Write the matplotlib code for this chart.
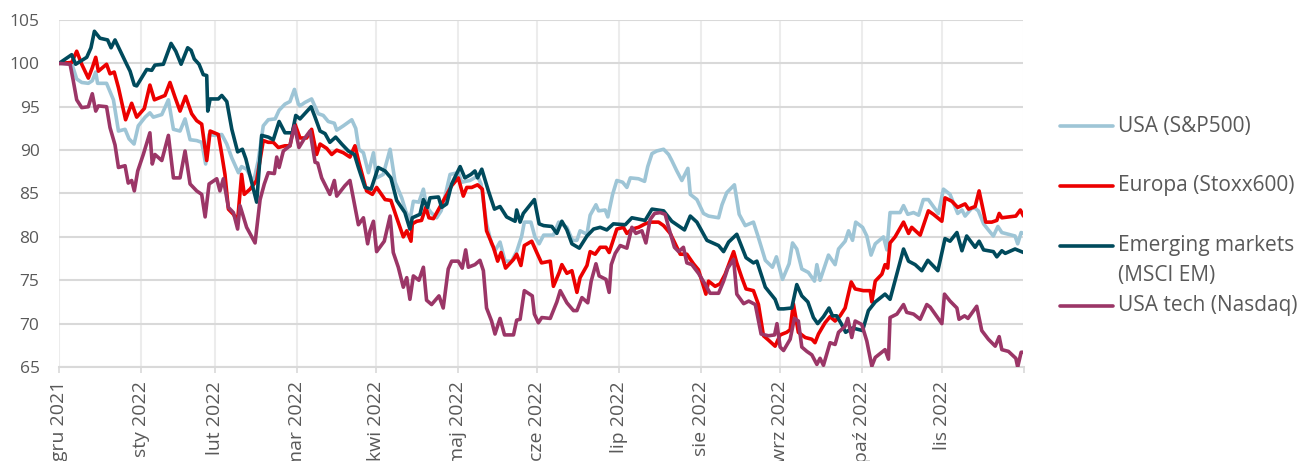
import numpy as np
import pandas as pd
import matplotlib
matplotlib.use("Agg")
import matplotlib.pyplot as plt
from matplotlib.lines import Line2D

plt.rcParams['font.family'] = ['Open Sans', 'DejaVu Sans']

START = pd.Timestamp('2021-12-31')

# --- data: days since 2021-12-31, index level (31.12.2021 = 100) ---
sp_days = [0, 4.8, 6.7, 8.6, 11.1, 12.6, 13.9, 14.6, 18, 20.6, 22.5, 25, 26.5, 28.4, 30, 32.6, 34.4, 35.7, 38.9, 41.4,
           43.3, 45.8, 47.7, 49.6, 52.1, 54, 55.5, 56.8, 59, 61.6, 63.5, 65.4, 67.9, 69.1, 71, 73.6, 75.4, 77.3, 79.2,
           81.8, 83.3, 85.5, 87.4, 89.1, 90.6, 91.2, 93.1, 95.6, 98.1, 100, 101.9, 104.2, 105.1, 107.6, 110.8, 112.3,
           113.5, 115.2, 117.1, 119, 120.2, 122.7, 125.3, 127.2, 129.7, 131.2, 132.8, 134.1, 136.2, 137.9, 139.1, 140.8,
           142.9, 144.6, 146.1, 148, 151.1, 152.4, 155.5, 158.4, 159.7, 161.8, 163.7, 165, 166.9, 168.8, 171.3, 173.2,
           175.1, 176.1, 178.6, 180.1, 181.7, 183.4, 187.1, 189.1, 192.2, 194.3, 196, 197.2, 199.8, 201, 203.2, 204.2,
           206.7, 207.7, 209.5, 211.1, 213.3, 214.9, 216.2, 219.3, 221.6, 222.8, 224.4, 226.2, 228.8, 230.7, 231.9,
           233.8, 235.7, 238, 238.9, 241.4, 243.9, 245.8, 249.6, 250.9, 252.7, 255.6, 257.4, 259.7, 262.8, 264.5,
           267.3, 270, 271.5, 273.8, 276.3, 277.6, 279.2, 281.1, 283.6, 285.9, 286.8, 288, 291.2, 293.7, 295, 297.5,
           298.8, 300.3, 301.5, 304.1, 305.7, 307.3, 308.9, 312, 313.3, 314.5, 318.3, 319.6, 321.2, 323.4, 325.3,
           327.1, 329, 332.8, 334.7, 337.2, 340.1, 341.7, 342.9, 345.4, 346.7, 347.9, 349.9, 351.7, 353.6, 355.3,
           356.8, 359.3, 361.8, 362.8, 364.1, 365]
sp_vals = [100, 100, 98.2, 97.8, 97.7, 98, 99, 97.7, 97.7, 95.8, 92.2, 92.4, 91.3, 90.7, 92.8, 93.8, 94.3, 93.8, 94.1, 95.8,
           92.4, 92.2, 93.6, 91.2, 91.1, 90.9, 88.4, 91.8, 91.7, 91.8, 90.7, 89.1, 87.4, 88.1, 87.8, 86.3, 88.8, 92.8, 93.5,
           93.6, 94.6, 95.3, 95.6, 97, 95.3, 95.1, 95.5, 95.9, 94.2, 94, 93.3, 93.1, 92.3, 92.8, 93.5, 92.5,
           90.1, 89.7, 87.4, 89.7, 86.8, 87.2, 90.1, 86.3, 84.5, 83, 81.9, 84.1, 84, 85.5, 83.5, 82.8,
           82.2, 83, 84.7, 87.2, 87.4, 86.3, 86.5, 87, 86.1, 81.5, 79.2, 78.4, 79.4, 77.2, 77.2, 78.3,
           80.1, 81.7, 81.7, 80, 79.2, 80.2, 80.2, 81.7, 81.1, 79.6, 79.6, 80.7, 80.3, 82.5, 83.7, 83,
           83.1, 82.3, 84.9, 86.5, 86.3, 85.7, 86.8, 86.7, 86.4, 88.1, 89.6, 89.9, 90.1, 89.5, 88.8,
           87.6, 86.5, 87.9, 84.9, 84.3, 82.7, 82.4, 82.2, 83.7, 85.1, 86, 82.6, 81.3, 81.7, 80.1,
           77.3, 76.5, 77.7, 75.1, 76.9, 79.3, 78.6, 76.3, 75.9, 74.9, 76.8, 75, 77.9, 76.8, 78.6, 79.5,
           80.7, 79.6, 81.7, 81.1, 80.1, 77.9, 79.2, 80, 78.5, 82.8, 82.8, 83.6, 82.6, 82.8, 82.5,
           84.3, 84.3, 82.7, 85.5, 84.9, 82.7, 83.1, 82.4, 83.3, 83.3, 83, 81.5, 80.8, 80.1, 81.2,
           80.5, 80.3, 80.1, 79.2, 80.5, 80.4]

eu_days = [0, 4.8, 6.7, 8.6, 11.1, 12.6, 13.9, 14.9, 18, 19.3, 20.9, 22.5, 25.2, 27.5, 29.4, 32.3, 34.4, 36.1, 40.1, 42,
           43.9, 45.8, 47.9, 50.2, 52.1, 54, 55.9, 57.2, 60.3, 61.6, 62.8, 64.1, 66, 67.6, 69.1, 70.1, 72.3, 74.8, 77.3,
           79.2, 81.1, 83, 85.5, 87.4, 88.7, 89.3, 91.2, 93.7, 95.6, 97.5, 98.8, 101.3, 103.2, 105.1, 107.6, 110.1, 112,
           113.5, 116.4, 118.6, 120.2, 123.4, 125.6, 127.8, 130.3, 131.6, 133.2, 133.7, 135.4, 137.2, 138.8, 140, 141.7,
           144.8, 148.6, 151.1, 153, 154.3, 156.2, 158.4, 160.2, 161.8, 164.4, 166, 167.3, 169, 172, 173.2, 174.8, 176.1,
           178.9, 180.8, 182.6, 185.9, 187.1, 189.3, 190.3, 192.2, 194.1, 196, 197.2, 199.8, 201, 202.9, 204.8, 207,
           208.2, 211.1, 213.6, 214.9, 216.8, 219.3, 221.8, 223.7, 226.9, 228.8, 231.3, 233.2, 235.1, 237.6, 240.1,
           242, 244.8, 245.8, 248.3, 250.2, 252.1, 255.3, 256.5, 258.4, 260, 262.8, 264.7, 266.6, 268.5, 271, 272.9,
           275.4, 276.7, 277.9, 279.8, 282.4, 284.9, 286.1, 287.4, 289.9, 291.8, 293.7, 295.6, 297.5, 299.8, 301.3,
           304.4, 307, 307.6, 308.9, 311.4, 312.6, 313.6, 314.5, 316.4, 319.6, 321.5, 322.7, 325.9, 329, 330.9, 334.1,
           335.3, 337.9, 340.1, 342.9, 344.2, 346.7, 348.2, 350.7, 353, 354.9, 355.8, 356.8, 359.3, 362.1, 363.8, 365]
eu_vals = [100, 100.1, 101.4, 99.9, 98.3, 99.5, 100.7, 99.1, 99.9, 98.8, 99, 97.2, 93.5, 95.4, 93.8, 94.8, 97.5, 95.8, 96.3, 97.8,
           96.1, 94.5, 96.2, 94.2, 93.4, 93, 88.8, 92.2, 91.8, 89.5, 87.2, 83.2, 82.6, 81.9, 87.2, 84.9, 85.5, 86.5, 91.1,
           90.9, 90.9, 90.3, 90.5, 90.5, 92.5, 93, 91.4, 91.4, 92.4, 89.5, 90.7, 90.2, 89.5, 90, 89.7, 89.2, 90.5,
           88.6, 85.3, 84.9, 85.7, 84.3, 84.2, 82.2, 80, 80.7, 79.5, 81.5, 81.8, 81.9, 83.4, 82.2, 82.1,
           83.8, 85.9, 86.8, 84.7, 85.7, 85.7, 86, 85.5, 80.7, 78.8, 77.2, 78.2, 76.4, 77.4, 78, 76.7, 79,
           79.5, 78.2, 77, 77.2, 74.3, 75.9, 76.8, 75.8, 76.1, 73.6, 75.3, 76.7, 78.3, 78, 78.8, 78.8,
           78.2, 80.9, 81.1, 80.4, 80.9, 81.1, 81.5, 81.7, 81.7, 81.3, 80.4, 79.2, 78, 78, 76.9,
           76.2, 73.4, 74.9, 74.3, 74.6, 75.7, 78.3, 77, 75.3, 74, 73.8, 72.2, 68.6, 68.1, 67.4, 68.7,
           69, 69.3, 72.3, 69, 68.4, 68.2, 67.8, 68.8, 70.1, 70.8, 70.3, 70.9, 71.8, 74.8, 74,
           73.8, 73.8, 72.5, 74.9, 75.7, 76.8, 76.4, 79.3, 80, 81.7, 80.4, 81.1, 80.2, 83, 82.6, 81.8,
           84.5, 84.1, 83.4, 83.8, 83.2, 83.5, 85.3, 81.7, 81.7, 81.9, 82.7, 82.2, 82.3, 82.4, 83.1, 82.4]

em_days = [0, 4.8, 6.3, 10.5, 12.1, 13.4, 15.5, 18.4, 19.7, 21.2, 23.7, 25.6, 26.9, 28.5, 29.4, 33.2, 35.1, 36.3, 39.5, 42.4,
           44.2, 46.2, 48.7, 50, 51.2, 53, 54.6, 55.9, 56.3, 57.2, 60.3, 61.6, 63.5, 65.4, 67.6, 69.4, 70.7, 74.8, 76.7,
           79.2, 81.1, 83.3, 85.5, 88.3, 89.6, 91.2, 95.4, 96.9, 98.8, 100.7, 102.5, 104.7, 107, 109.5, 111.8, 113.3,
           115.8, 118.1, 120.8, 123.4, 125.6, 127.8, 130.9, 132.8, 133.7, 136.6, 137.9, 139.5, 140.4, 143.6, 144.8,
           146.7, 148.6, 151.8, 153.6, 155.9, 157.4, 158.4, 160, 162.5, 164.8, 166.9, 169.4, 172.6, 173.2, 174.5, 175.7,
           179.9, 181.7, 183.4, 186.5, 188.4, 190.3, 192.2, 194.1, 196.9, 199.8, 202.3, 204.8, 207.3, 209.8, 214.3,
           216.8, 221.8, 224.4, 228.8, 231.9, 236.7, 238.9, 241.4, 245.2, 249.6, 251.5, 253.4, 256.5, 260, 262.8,
           264.1, 267.3, 271, 272.3, 274.2, 277.3, 279.2, 281.1, 283.4, 285.5, 287.1, 289.3, 291.4, 292.7, 294.3,
           296.2, 297.7, 300.3, 304.1, 306.3, 308.9, 312.6, 314.5, 316.7, 319.6, 321.5, 324, 326.5, 328.8, 332.6,
           335.3, 337.2, 339.8, 341.7, 343.5, 346.7, 348.2, 349.9, 353.6, 354.9, 356.8, 358.1, 361.8, 365]
em_vals = [100, 101, 99.9, 100.7, 101.8, 103.7, 102.9, 102.7, 101.8, 102.7, 101.1, 99.9, 99.1, 97.5, 97.4, 99.3, 99.2, 99.8, 99.9, 102.3,
           101.4, 99.9, 101.8, 101.5, 100.5, 99.9, 98.7, 98.6, 94.5, 95.9, 95.9, 96.3, 95.6, 92.4, 89.8, 90.1, 89, 84, 91.7,
           91.5, 91.2, 93.3, 92, 92, 94, 93.6, 95, 93.8, 92.2, 91.9, 90.9, 91.5, 90.7, 89.9, 89.5, 88,
           85.7, 85.5, 88, 87.6, 86.8, 84.2, 82.8, 80.9, 82.2, 82.6, 84.3, 83.4, 84.5, 84.6, 83.4,
           83.8, 86.1, 88.1, 86.8, 87.2, 87.6, 86.8, 87.8, 85.3, 83.2, 83.5, 82.3, 81.8, 83.1, 81.7, 82.7,
           84.3, 81.5, 81.3, 81.2, 80.4, 81.8, 80.8, 79.2, 78.7, 80.1, 80.9, 81.1, 80.8, 81.5, 81.4,
           82.2, 81.9, 83.2, 83, 81.8, 80.8, 82.4, 81.7, 79.6, 79, 78.3, 79.4, 80.3, 77.6, 77,
           77.2, 74.2, 72.8, 71.7, 71.7, 71.8, 74.5, 73.2, 72.5, 70.7, 70, 70.8, 71.8, 70.9, 70.9,
           69.9, 69, 69.5, 69.2, 71.5, 72.5, 73.4, 72.8, 75.3, 78.6, 77.2, 76.8, 76.1, 77.3, 76.1,
           79.8, 79.5, 80.5, 78.4, 80.1, 78.8, 79.5, 78.5, 78.3, 77.7, 78.4, 78.1, 78.6, 78.2]

nq_days = [0, 4.2, 5.4, 6.7, 8.6, 11.1, 12.6, 13.9, 14.9, 18, 19.3, 21.2, 22.5, 25, 26.2, 27.5, 28.5, 29.8, 31.9, 34.4,
           35.3, 36.3, 38.9, 41.4, 43.3, 45.8, 47.7, 49.6, 52.1, 54, 55.3, 56.8, 59.7, 60.9, 62.2, 64.1, 66, 67.6, 68.5,
           71, 74.2, 76.1, 77.7, 79.2, 81.5, 82.4, 83.3, 84.9, 87.4, 89.1, 90.8, 92.8, 95, 96.9, 97.9, 99.4, 102.5,
           104.2, 105.1, 108.2, 110.1, 113.3, 115.2, 116.8, 117.7, 119, 120.2, 123.1, 125.3, 126.5, 128.4, 130.3,
           131.6, 132.8, 134.1, 136.2, 137.9, 139.1, 141, 143.8, 145.4, 147.3, 148.6, 151.1, 152.6, 153.9, 154.9,
           157.4, 159.3, 160.6, 161.8, 163.7, 165, 166.9, 168.6, 172, 173.2, 174.5, 176.1, 179.1, 179.9, 181.4, 182.7,
           185.9, 188.4, 189.7, 192.2, 194.7, 196, 197.9, 200.1, 201.4, 203.2, 204.4, 207, 208.2, 209, 210.5, 212.4,
           214.9, 216.8, 218.3, 220.6, 222.1, 223.7, 225.4, 227.5, 229.4, 230.7, 232.9, 234.5, 236.3, 237.6, 239.5,
           242, 244.6, 246.4, 249.6, 251.5, 253.1, 255.3, 256.5, 259.1, 261, 263.5, 265.7, 268.5, 270.8, 271.7, 272.9,
           274.2, 276.7, 278.3, 279.8, 281.1, 283, 284.9, 286.8, 288, 289.3, 291.8, 293.7, 295, 297.5, 298.5, 300,
           301.3, 303.8, 305.7, 307.6, 308.9, 311.4, 312.6, 313.9, 314.5, 317.1, 319.6, 320.8, 323.4, 325.9, 328.4,
           329.7, 334.1, 335.1, 337.2, 339.8, 340.6, 342.7, 344, 347.3, 349.2, 351.7, 354.3, 355.8, 356.8, 359.3,
           362.1, 362.8, 364.1, 365]
nq_vals = [100, 99.9, 98, 95.8, 94.9, 95, 96.5, 94.5, 95.1, 95, 92.6, 90.6, 88, 88.2, 86.2, 86.5, 85.3, 87.6, 89.5, 92,
           88.4, 89.5, 88.8, 91.7, 86.8, 86.8, 89.9, 86.1, 85.3, 84.9, 82.3, 86.1, 86.7, 85.3, 86.7, 83.4, 82.8, 80.9, 83.6,
           81.1, 79.3, 84.3, 86.1, 87.4, 87.3, 89.2, 88, 89.9, 90.5, 92.8, 90.3, 91.3, 92.2, 88.6, 88.5, 86.8, 84.9,
           86.5, 84.7, 85.9, 86.5, 81.4, 82.2, 79.2, 80.7, 81.8, 78.3, 79.5, 82.4, 78.2, 76.5, 74.2,
           75.3, 72.8, 75.5, 75, 76.5, 72.7, 72.2, 73.2, 71.8, 76.3, 77.2, 77.2, 76.4, 78.5, 76.5,
           76.8, 77.3, 76.1, 71.8, 70.3, 68.8, 70.6, 68.7, 68.7, 70.4, 70.5, 73.8, 73.2, 71.1, 70.1, 70.7,
           70.6, 72.5, 73.8, 72.4, 71.5, 71.5, 73, 72.4, 74.9, 76.9, 75.5, 75.1, 73.6, 76.8, 78.1, 79,
           78.7, 81.1, 80.4, 80.7, 79.3, 82, 82.7, 82.8, 82.6, 81.1, 78.8, 78.3, 78.8, 77, 76.8,
           75.8, 74.5, 73.5, 73.5, 74.9, 76.4, 77.4, 73.4, 72.3, 72.6, 72.2, 68.8, 68.6, 68.7, 70, 67.3,
           66.9, 68.2, 70.6, 70.3, 67.3, 66.8, 66.4, 65.3, 66, 65.2, 67.8, 67.6, 69, 69.7, 70.6, 68.4,
           70.3, 69.9, 68, 65.1, 66.1, 66.7, 67, 65.9, 70.7, 71.1, 72.2, 71.3, 71.1, 70.5, 72.2,
           71.9, 70, 73.4, 72.6, 71.8, 70.5, 70.9, 70.6, 72, 69.2, 68.2, 67.4, 68.5, 67, 66.8,
           66, 65, 66.7, 66.7]

labels = ["USA (S&P500)", "Europa (Stoxx600)", "Emerging markets\n(MSCI EM)", "USA tech (Nasdaq)"]
colors = ["#9ec5d6", "#ec0000", "#004a5c", "#9b3667"]

month_labels = ["gru 2021", "sty 2022", "lut 2022", "mar 2022", "kwi 2022", "maj 2022", "cze 2022",
                "lip 2022", "sie 2022", "wrz 2022", "paź 2022", "lis 2022", ""]

yticks = [65, 70, 75, 80, 85, 90, 95, 100, 105]

def to_dates(days):
    return START + pd.to_timedelta(np.array(days, dtype=float), unit='D')

W, H = 1301, 461
fig = plt.figure(figsize=(W / 100, H / 100), dpi=100)
ax = fig.add_axes([59 / W, 1 - 367 / H, (1023.5 - 59) / W, (367 - 20) / H])

series = [(sp_days, sp_vals), (eu_days, eu_vals), (em_days, em_vals), (nq_days, nq_vals)]
for (d, v), c in zip(series, colors):
    ax.plot(to_dates(d), v, color=c, lw=2.6, solid_joinstyle='round', solid_capstyle='round', zorder=3)

ax.set_ylim(65, 105)
ax.set_yticks(yticks)
ax.set_xlim(START, pd.Timestamp('2022-12-31'))
tick_dates = pd.date_range('2021-12-31', '2022-12-31', freq='ME')
ax.set_xticks(tick_dates)
ax.set_xticklabels(month_labels, rotation=90, va='top', ha='center')

ax.grid(axis='y', color='#d9d9d9', lw=1.5, zorder=0)
ax.grid(axis='x', color='#ececec', lw=1.5, zorder=0)
for s in ['top', 'right', 'left']:
    ax.spines[s].set_visible(False)
ax.spines['bottom'].set_color('#d9d9d9')
ax.spines['bottom'].set_linewidth(1.5)
ax.tick_params(axis='y', length=0, pad=14, labelsize=12.5, labelcolor='#595959')
ax.tick_params(axis='x', length=4, width=1.2, color='#d9d9d9', pad=6, labelsize=14, labelcolor='#595959')

# legend (right side)
rows_px = [126, 186, 246, 306]
for lab, c, ypx in zip(labels, colors, rows_px):
    yf = 1 - ypx / H
    fig.add_artist(Line2D([1060 / W, 1113 / W], [yf, yf], transform=fig.transFigure,
                          color=c, lw=2.6, solid_capstyle='round'))
    if '\n' in lab:
        fig.text(1118 / W, 1 - (ypx + 14.5) / H, lab, fontsize=15, color='#595959',
                 va='center', ha='left', linespacing=1.5)
    else:
        fig.text(1118 / W, yf, lab, fontsize=15, color='#595959', va='center', ha='left')

fig.savefig('out.png', dpi=100)
